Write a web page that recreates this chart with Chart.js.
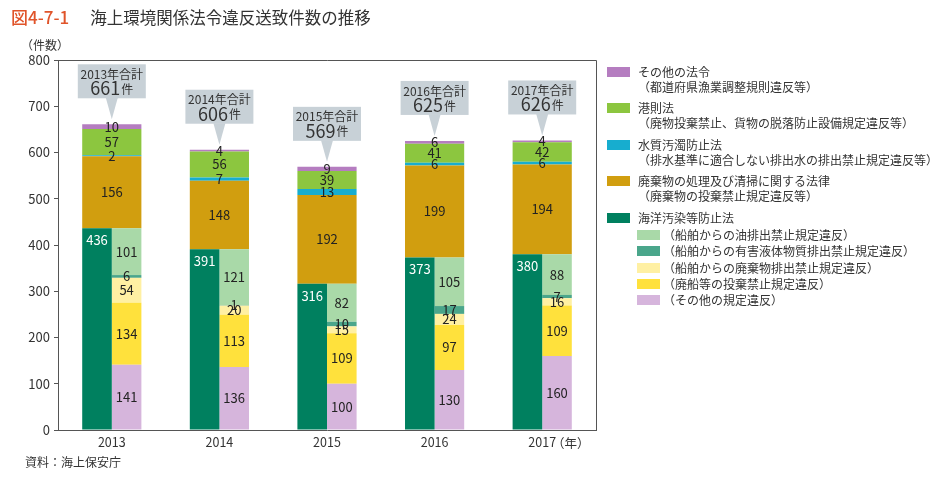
<!DOCTYPE html>
<html lang="ja">
<head>
<meta charset="utf-8">
<script src="https://cdn.jsdelivr.net/npm/chart.js@4"></script>
<style>
  html, body { margin:0; padding:0; background:#fff; }
  body { width:940px; height:479px; position:relative; overflow:hidden;
         font-family:"Noto Sans CJK JP","Noto Sans",sans-serif; color:#333; }
  #wrap { position:absolute; left:0; top:0; width:940px; height:479px; }
  .abs { position:absolute; white-space:nowrap; }
  #title { left:11px; top:4px; font-size:16.5px; line-height:26px; }
  #title .fig { color:#e0542a; font-size:17px; font-weight:500; margin-right:21px; }
  #unit { left:21px; top:36px; font-size:12px; line-height:18px; }
  #nen { left:552px; top:434px; font-size:12.5px; line-height:18px; }
  #source { left:25px; top:453px; font-size:12px; line-height:18px; }
  #legend { left:607px; top:66px; font-size:12px; line-height:15px; }
  .li { position:absolute; left:0; white-space:nowrap; }
  .sw { position:absolute; width:23px; height:10px; }
  .tx { position:absolute; }
</style>
</head>
<body>
<div id="wrap"><canvas id="c" width="940" height="479"></canvas></div>
<div id="title" class="abs"><span class="fig">図4-7-1</span>海上環境関係法令違反送致件数の推移</div>
<div id="unit" class="abs">（件数）</div>
<div id="nen" class="abs">（年）</div>
<div id="source" class="abs">資料：海上保安庁</div>
<div id="legend" class="abs"></div>
<script>
// ---- data ----
const categories = ['2013', '2014', '2015', '2016', '2017'];
// 海洋汚染等防止法 (total) and its breakdown
const marinePollution = [436, 391, 316, 373, 380];
const oilDischarge    = [101, 121, 82, 105, 88];
const noxiousLiquid   = [6, 1, 10, 17, 7];
const shipWaste       = [54, 20, 15, 24, 16];
const abandonedShips  = [134, 113, 109, 97, 109];
const otherViolations = [141, 136, 100, 130, 160];
// other laws stacked on top
const wasteLaw        = [156, 148, 192, 199, 194];
const waterPollution  = [2, 7, 13, 6, 6];
const portRegulations = [57, 56, 39, 41, 42];
const otherLaws       = [10, 4, 9, 6, 4];
const totals          = [661, 606, 569, 625, 626];
const yTicks          = [0, 100, 200, 300, 400, 500, 600, 700, 800];

const C = {
  dark: '#00805f', oil: '#a9d9a8', nox: '#4aa68b', shipWaste: '#fff0a3',
  aband: '#ffe13c', otherV: '#d6b5dc', waste: '#d19e0f', water: '#17adcf',
  port: '#8cc63f', otherL: '#b57dc0'
};

// floating ranges for layers above marine pollution
function ranges(layer, below) {
  return layer.map((v, i) => {
    const base = below.reduce((s, arr) => s + arr[i], 0);
    return [base, base + v];
  });
}
const upper = [
  { label: '廃棄物', values: wasteLaw, color: C.waste },
  { label: '水質', values: waterPollution, color: C.water },
  { label: '港則法', values: portRegulations, color: C.port },
  { label: 'その他の法令', values: otherLaws, color: C.otherL }
];

const datasets = [
  { label: '海洋汚染等防止法', data: marinePollution, values: marinePollution, backgroundColor: C.dark,
    stack: 'L', labelPos: 'top', labelColor: '#ffffff' },
  { label: 'その他の規定違反', data: otherViolations, values: otherViolations, backgroundColor: C.otherV, stack: 'R' },
  { label: '廃船等', data: abandonedShips, values: abandonedShips, backgroundColor: C.aband, stack: 'R' },
  { label: '廃棄物排出', data: shipWaste, values: shipWaste, backgroundColor: C.shipWaste, stack: 'R' },
  { label: '有害液体', data: noxiousLiquid, values: noxiousLiquid, backgroundColor: C.nox, stack: 'R' },
  { label: '油排出', data: oilDischarge, values: oilDischarge, backgroundColor: C.oil, stack: 'R' }
];
upper.forEach((u, k) => {
  const below = [marinePollution].concat(upper.slice(0, k).map(x => x.values));
  datasets.push({ label: u.label, data: ranges(u.values, below), values: u.values,
    backgroundColor: u.color, stack: 'U' + k, grouped: false });
});

const FONT = '"Noto Sans CJK JP", "Noto Sans", sans-serif';

const segLabels = {
  id: 'segLabels',
  afterDatasetsDraw(chart) {
    const ctx = chart.ctx;
    ctx.save();
    ctx.textAlign = 'center';
    ctx.textBaseline = 'middle';
    ctx.font = '13px ' + FONT;
    chart.data.datasets.forEach((ds, i) => {
      const meta = chart.getDatasetMeta(i);
      meta.data.forEach((el, j) => {
        const top = Math.min(el.y, el.base), bot = Math.max(el.y, el.base);
        let y = (top + bot) / 2;
        if (ds.labelPos === 'top') y = top + 12;
        ctx.fillStyle = ds.labelColor || '#222';
        ctx.fillText(String(ds.values[j]), el.x, y);
      });
    });
    ctx.restore();
  }
};

const frame = {
  id: 'frame',
  afterDraw(chart) {
    const { ctx, chartArea: a } = chart;
    ctx.save();
    ctx.strokeStyle = '#555';
    ctx.lineWidth = 1;
    ctx.beginPath();
    ctx.moveTo(a.left, a.top + 0.5);
    ctx.lineTo(a.right + 0.5, a.top + 0.5);
    ctx.lineTo(a.right + 0.5, a.bottom);
    ctx.stroke();
    ctx.restore();
  }
};

const callouts = {
  id: 'callouts',
  afterDraw(chart) {
    const ctx = chart.ctx, xs = chart.scales.x, ys = chart.scales.y;
    ctx.save();
    totals.forEach((t, i) => {
      const cx = xs.getPixelForValue(i);
      const barTop = ys.getPixelForValue(t);
      const tip = barTop - 5;
      const bb = barTop - 26, h = 34, bt = bb - h, w = 68;
      ctx.fillStyle = '#c8d1d7';
      ctx.fillRect(cx - w / 2, bt, w, h);
      ctx.beginPath();
      ctx.moveTo(cx - 6, bb - 0.5);
      ctx.lineTo(cx + 6, bb - 0.5);
      ctx.lineTo(cx, tip);
      ctx.closePath();
      ctx.fill();
      ctx.fillStyle = '#333';
      ctx.textBaseline = 'middle';
      ctx.textAlign = 'center';
      ctx.font = '12px ' + FONT;
      ctx.fillText(categories[i] + '年合計', cx, bt + 10);
      ctx.font = '18px ' + FONT;
      const num = String(t);
      const nw = ctx.measureText(num).width;
      ctx.font = '12px ' + FONT;
      const kw = ctx.measureText('件').width;
      const sx = cx - (nw + kw + 1) / 2;
      ctx.textAlign = 'left';
      ctx.font = '18px ' + FONT;
      ctx.fillText(num, sx, bt + 24);
      ctx.font = '12px ' + FONT;
      ctx.fillText('件', sx + nw + 1, bt + 25);
    });
    ctx.restore();
  }
};

new Chart(document.getElementById('c'), {
  type: 'bar',
  data: { labels: categories, datasets },
  options: {
    responsive: false,
    animation: false,
    events: [],
    layout: { padding: { left: 0, right: 344, top: 60, bottom: 0 } },
    datasets: { bar: { categoryPercentage: 0.55, barPercentage: 1.0, borderWidth: 0, inflateAmount: 0 } },
    plugins: { legend: { display: false }, tooltip: { enabled: false } },
    scales: {
      x: {
        grid: { display: false, drawTicks: false },
        border: { display: true, color: '#555', width: 1 },
        ticks: { color: '#333', font: { size: 12.5, family: FONT }, padding: 5 },
        afterFit(s) { s.height = 49; }
      },
      y: {
        stacked: true,
        min: 0, max: 800,
        afterBuildTicks(s) { s.ticks = yTicks.map(v => ({ value: v })); },
        grid: { display: true, drawOnChartArea: false, drawTicks: true, tickLength: 4, color: '#555' },
        border: { display: true, color: '#555', width: 1 },
        ticks: { color: '#333', font: { size: 13, family: FONT }, padding: 4 },
        afterFit(s) { s.width = 58; }
      }
    }
  },
  plugins: [segLabels, frame, callouts]
});

// ---- legend (HTML) ----
const legendItems = [
  { c: C.otherL, lines: ['その他の法令', '（都道府県漁業調整規則違反等）'], y: 0, sub: false },
  { c: C.port, lines: ['港則法', '（廃物投棄禁止、貨物の脱落防止設備規定違反等）'], y: 36, sub: false },
  { c: C.water, lines: ['水質汚濁防止法', '（排水基準に適合しない排出水の排出禁止規定違反等）'], y: 73, sub: false },
  { c: C.waste, lines: ['廃棄物の処理及び清掃に関する法律', '（廃棄物の投棄禁止規定違反等）'], y: 109, sub: false },
  { c: C.dark, lines: ['海洋汚染等防止法'], y: 146, sub: false },
  { c: C.oil, lines: ['（船舶からの油排出禁止規定違反）'], y: 163, sub: true },
  { c: C.nox, lines: ['（船舶からの有害液体物質排出禁止規定違反）'], y: 179, sub: true },
  { c: C.shipWaste, lines: ['（船舶からの廃棄物排出禁止規定違反）'], y: 196, sub: true },
  { c: C.aband, lines: ['（廃船等の投棄禁止規定違反）'], y: 212, sub: true },
  { c: C.otherV, lines: ['（その他の規定違反）'], y: 228, sub: true }
];
const lg = document.getElementById('legend');
legendItems.forEach(it => {
  const d = document.createElement('div');
  d.className = 'li';
  d.style.top = it.y + 'px';
  const sw = document.createElement('div');
  sw.className = 'sw';
  sw.style.background = it.c;
  sw.style.left = (it.sub ? 30 : 0) + 'px';
  sw.style.top = '1px';
  d.appendChild(sw);
  it.lines.forEach((t, k) => {
    const s = document.createElement('div');
    s.className = 'tx';
    s.textContent = t;
    s.style.left = (it.sub ? 56 : 31) + 'px';
    s.style.top = (k * 15 - 2) + 'px';
    d.appendChild(s);
  });
  lg.appendChild(d);
});
</script>
</body>
</html>
